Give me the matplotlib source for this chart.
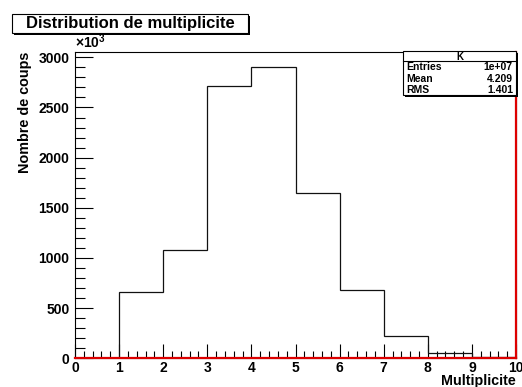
import matplotlib
matplotlib.use("Agg")
import matplotlib.pyplot as plt
from matplotlib.ticker import MultipleLocator
from matplotlib.patches import Rectangle

plt.rcParams['font.family'] = ['Liberation Sans', 'DejaVu Sans']
plt.rcParams['font.weight'] = 'bold'
plt.rcParams['mathtext.fontset'] = 'custom'
plt.rcParams['mathtext.rm'] = 'Liberation Sans'

# contenu des bins (x 10^3)
edges = [0, 1, 2, 3, 4, 5, 6, 7, 8, 9, 10]
counts = [0, 657, 1076, 2715, 2902, 1645, 681, 227, 50, 8]
stat_names = ['Entries', 'Mean', 'RMS']
stat_values = ['1e+07', '4.209', '1.401']
ymax = 3050

W, H = 522, 387
fig = plt.figure(figsize=(W / 100, H / 100), dpi=100)
ax = fig.add_axes([75 / W, (H - 358.3) / H, 441 / W, 306 / H])

ax.stairs(counts, edges, color='#111111', lw=0.9, zorder=3)
# histogramme rouge (vide)
ax.axhline(0, color='#dd0000', lw=1.6, zorder=4, clip_on=False)
ax.axvline(edges[-1], color='#dd0000', lw=1.6, zorder=4, clip_on=False)

ax.set_xlim(edges[0], edges[-1])
ax.set_ylim(0, ymax)
ax.xaxis.set_major_locator(MultipleLocator(1))
ax.xaxis.set_minor_locator(MultipleLocator(0.2))
ax.yaxis.set_major_locator(MultipleLocator(500))
ax.yaxis.set_minor_locator(MultipleLocator(100))
ax.tick_params(axis='both', which='both', direction='in', top=False, right=False,
               width=0.8, labelsize=10)
ax.tick_params(axis='x', which='major', length=10, pad=2)
ax.tick_params(axis='x', which='minor', length=5)
ax.tick_params(axis='y', which='major', length=13, pad=4)
ax.tick_params(axis='y', which='minor', length=7)
for s in ax.spines.values():
    s.set_linewidth(0.8)

ax.text(0, 1.003, r'$\times 10^{3}$', transform=ax.transAxes, ha='left', va='bottom',
        fontsize=10)
ax.text(1.0, -0.074, 'Multiplicite', transform=ax.transAxes, ha='right', va='center',
        fontsize=10.3)
fig.text(25 / W, 1 - 52 / H, 'Nombre de coups', rotation=90, ha='center', va='top',
         fontsize=10.4)

# titre
tx0, ty0, tw, th = 12, 14, 236, 19
fig.patches.append(Rectangle(((tx0 + 2) / W, 1 - (ty0 + th + 2) / H), tw / W, th / H,
                             transform=fig.transFigure, fc='black', ec='none'))
fig.patches.append(Rectangle((tx0 / W, 1 - (ty0 + th) / H), tw / W, th / H,
                             transform=fig.transFigure, fc='white', ec='black', lw=0.8))
fig.text((tx0 + tw / 2) / W, 1 - (ty0 + th / 2) / H, 'Distribution de multiplicite',
         ha='center', va='center', fontsize=12)

# boite de stats
sx0, sy0, sw, sh = 403, 51, 113, 44
fig.patches.append(Rectangle(((sx0 + 2) / W, 1 - (sy0 + sh + 2) / H), sw / W, sh / H,
                             transform=fig.transFigure, fc='black', ec='none', zorder=5))
fig.patches.append(Rectangle((sx0 / W, 1 - (sy0 + sh) / H), sw / W, sh / H,
                             transform=fig.transFigure, fc='white', ec='black', lw=0.8,
                             zorder=6))
fig.lines.append(plt.Line2D([sx0 / W, (sx0 + sw) / W], [1 - 61 / H, 1 - 61 / H],
                            transform=fig.transFigure, color='black', lw=0.8, zorder=7))
fig.text((sx0 + sw / 2) / W, 1 - 56.5 / H, 'K', ha='center', va='center', fontsize=7,
         zorder=8)
for i, (n, v) in enumerate(zip(stat_names, stat_values)):
    yy = 1 - (67.3 + i * 11.5) / H
    fig.text((sx0 + 3) / W, yy, n, ha='left', va='center', fontsize=7.5, zorder=8)
    fig.text((sx0 + sw - 3) / W, yy, v, ha='right', va='center', fontsize=7.5, zorder=8)

fig.savefig('out.png', dpi=100)
